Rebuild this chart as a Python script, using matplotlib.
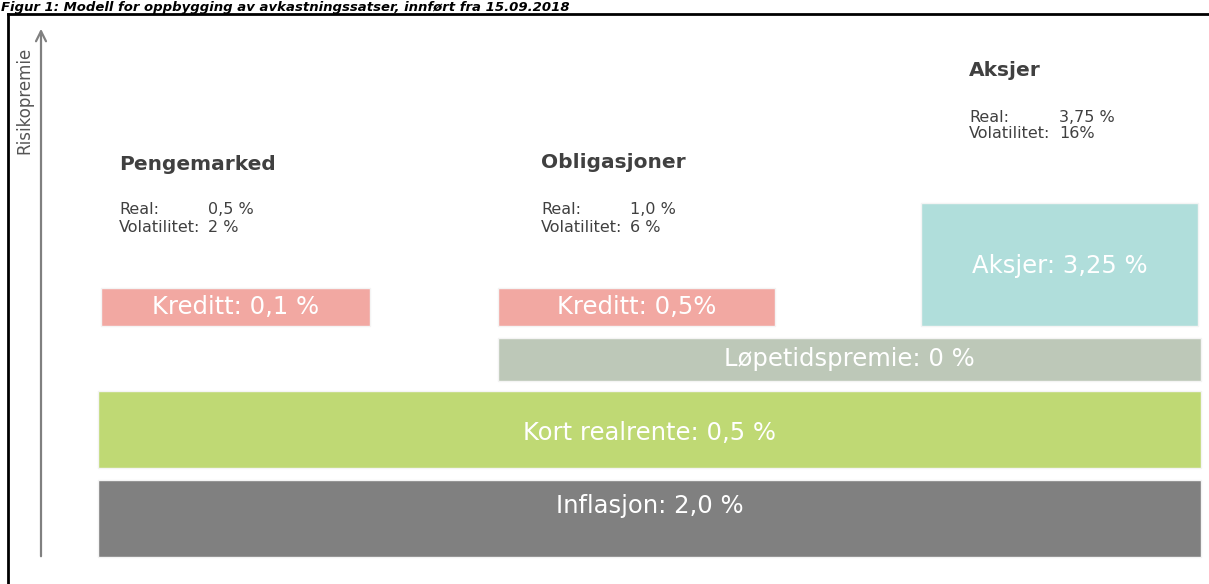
import matplotlib.pyplot as plt

# asset classes and their key numbers
classes = ["Pengemarked", "Obligasjoner", "Aksjer"]
real = ["0,5 %", "1,0 %", "3,75 %"]
vol = ["2 %", "6 %", "16%"]

# building blocks (bottom to top)
blocks = ["Inflasjon: 2,0 %", "Kort realrente: 0,5 %", "Løpetidspremie: 0 %",
          "Kreditt: 0,1 %", "Kreditt: 0,5%", "Aksjer: 3,25 %"]
colors = ["#808080", "#bfd974", "#bdc8b8", "#f2a8a2", "#f2a8a2", "#b0dedb"]

title = "Figur 1: Modell for oppbygging av avkastningssatser, innført fra 15.09.2018"

# layout in pixel space: (x0, x1, y0, y1) and label heights
geom = [(98, 1201, 480, 557), (98, 1201, 391, 468), (498, 1201, 338, 381),
        (101, 370, 288, 326), (498, 775, 288, 326), (921, 1198, 203, 326)]
label_y = [506, 433, 359, 307, 307, 266]
head_pos = [(119, 165), (541, 163), (969, 71)]
val_dx = [89, 89, 90]
info_y = [210, 210, 117]

fig = plt.figure(figsize=(12.09, 5.84), dpi=100)
ax = fig.add_axes([0, 0, 1, 1])
ax.set_xlim(0, 1209)
ax.set_ylim(584, 0)
ax.axis('off')

for (x0, x1, y0, y1), ly, lab, c in zip(geom, label_y, blocks, colors):
    ax.barh((y0 + y1) / 2, x1 - x0, left=x0, height=y1 - y0, color=c,
            edgecolor='#f4f4f4', linewidth=1)
    ax.text((x0 + x1) / 2, ly, lab, color='white', fontsize=17.5,
            ha='center', va='center')

for name, r, v, (hx, hy), dx, iy in zip(classes, real, vol, head_pos, val_dx, info_y):
    ax.text(hx, hy, name, fontsize=14.5, fontweight='bold', color='#404040',
            ha='left', va='center')
    ax.text(hx, iy, "Real:", fontsize=11.5, color='#404040', ha='left', va='center')
    ax.text(hx, iy + 17, "Volatilitet:", fontsize=11.5, color='#404040', ha='left', va='center')
    ax.text(hx + dx, iy, r, fontsize=11.5, color='#404040', ha='left', va='center')
    ax.text(hx + dx, iy + 17, v, fontsize=11.5, color='#404040', ha='left', va='center')

# risk arrow
ax.annotate('', xy=(41, 26), xytext=(41, 559),
            arrowprops=dict(arrowstyle='->', color='#808080', lw=1.6,
                            mutation_scale=18))
ax.text(24, 100, "Risikopremie", rotation=90, fontsize=12, color='#555555',
        ha='center', va='center')

# frame (left and top)
ax.plot([8, 8], [14, 584], color='black', lw=2, clip_on=False)
ax.plot([8, 1209], [14, 14], color='black', lw=2, clip_on=False)
ax.text(1, 0.5, title, fontsize=9.5, fontweight='bold', fontstyle='italic',
        ha='left', va='top', clip_on=False)

fig.savefig('out.png', dpi=100)
